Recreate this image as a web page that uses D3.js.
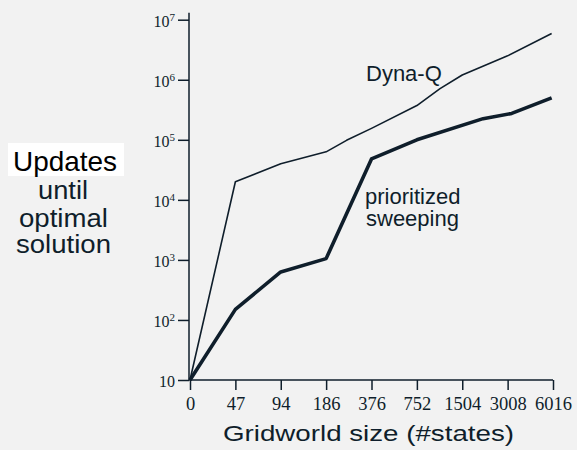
<!DOCTYPE html>
<html>
<head>
<meta charset="utf-8">
<script src="https://cdn.jsdelivr.net/npm/d3@7"></script>
<style>
  body { margin: 0; background: #f2f2f2; }
  svg { display: block; }
</style>
</head>
<body>
<div id="chart"></div>
<script>
// x categories (gridworld sizes) and their tick positions
var sizes = ["0", "47", "94", "186", "376", "752", "1504", "3008", "6016"];
var yTicks = [10, 1e2, 1e3, 1e4, 1e5, 1e6, 1e7];

// series: position along the size axis (category index) and updates needed
var dynaIdx = [0, 1, 2, 3, 3.45, 4, 5, 5.51, 6, 7, 7.97];
var dynaVal = [10, 20000, 40000, 63000, 98000, 155000, 372000, 710000, 1200000, 2500000, 5900000];
var psIdx = [0, 1, 2, 3, 4, 5, 6.46, 7.09, 7.97];
var psVal = [10, 150, 630, 1050, 48000, 100000, 225000, 275000, 500000];

var W = 577, H = 450;
var ink = "#0f1e2b";

var svg = d3.select("#chart").append("svg")
  .attr("width", W)
  .attr("height", H)
  .style("background", "#f2f2f2");

// scales
var x = d3.scaleLinear().domain([0, sizes.length - 1]).range([190, 553]);
var y = d3.scaleLog().domain([10, 1e7]).range([380, 19.7]);

// y axis
var yAxis = d3.axisLeft(y)
  .tickValues(yTicks)
  .tickSize(11)
  .tickSizeOuter(0)
  .tickPadding(3)
  .tickFormat(d => "");
var gy = svg.append("g")
  .attr("transform", "translate(189,0)")
  .call(yAxis);
gy.select(".domain").remove();
gy.append("line")
  .attr("x1", 0).attr("x2", 0)
  .attr("y1", y(10)).attr("y2", y(1.3e7))
  .attr("stroke", ink).attr("stroke-width", 1.5);
gy.selectAll(".tick line").attr("stroke", ink).attr("stroke-width", 1.5);
gy.selectAll(".tick text").each(function(d) {
  var t = d3.select(this)
    .attr("fill", ink)
    .style("font-family", "'Liberation Serif', 'Times New Roman', serif")
    .style("font-size", "16px")
    .attr("dy", "0.42em")
    .attr("x", -14);
  var p = Math.round(Math.log10(d));
  t.append("tspan").text("10");
  if (p > 1) {
    t.append("tspan")
      .attr("dy", -6)
      .style("font-size", "11px")
      .text(p);
  }
});

// x axis
var xAxis = d3.axisBottom(x)
  .tickValues(d3.range(sizes.length))
  .tickSize(10)
  .tickSizeOuter(0)
  .tickPadding(7)
  .tickFormat(i => sizes[i]);
var gx = svg.append("g")
  .attr("transform", "translate(0,380)")
  .call(xAxis);
gx.select(".domain")
  .attr("d", "M189,0H" + x(8))
  .attr("stroke", ink).attr("stroke-width", 1.5);
gx.selectAll(".tick line").attr("stroke", ink).attr("stroke-width", 1.5);
gx.selectAll(".tick text")
  .attr("fill", ink)
  .style("font-family", "'Liberation Serif', 'Times New Roman', serif")
  .style("font-size", "18.5px");

// lines
var line = d3.line()
  .x(d => x(d[0]))
  .y(d => y(d[1]));

svg.append("path")
  .datum(d3.zip(dynaIdx, dynaVal))
  .attr("fill", "none")
  .attr("stroke", ink)
  .attr("stroke-width", 1.6)
  .attr("stroke-linejoin", "round")
  .attr("d", line);

svg.append("path")
  .datum(d3.zip(psIdx, psVal))
  .attr("fill", "none")
  .attr("stroke", ink)
  .attr("stroke-width", 3.6)
  .attr("stroke-linejoin", "round")
  .attr("d", line);

// labels
var sans = "'Liberation Sans', Arial, Helvetica, sans-serif";

svg.append("text")
  .attr("x", 366).attr("y", 81)
  .attr("fill", ink)
  .style("font-family", sans).style("font-size", "22px")
  .text("Dyna-Q");

svg.append("text")
  .attr("x", 365).attr("y", 204)
  .attr("fill", ink)
  .style("font-family", sans).style("font-size", "22px")
  .text("prioritized");
svg.append("text")
  .attr("x", 366).attr("y", 225.5)
  .attr("fill", ink)
  .style("font-family", sans).style("font-size", "22px")
  .text("sweeping");

svg.append("text")
  .attr("x", 223).attr("y", 441)
  .attr("fill", ink)
  .attr("textLength", 291)
  .attr("lengthAdjust", "spacingAndGlyphs")
  .style("font-family", sans).style("font-size", "22px")
  .text("Gridworld size (#states)");

// y title
svg.append("rect")
  .attr("x", 8).attr("y", 143)
  .attr("width", 116).attr("height", 33)
  .attr("fill", "#ffffff");
svg.append("text")
  .attr("x", 13).attr("y", 171)
  .attr("fill", "#000")
  .attr("textLength", 104)
  .attr("lengthAdjust", "spacingAndGlyphs")
  .style("font-family", sans).style("font-size", "28px")
  .text("Updates");

var yTitle = [["until", 38, 199, 50], ["optimal", 19, 227, 89], ["solution", 16, 253, 95]];
yTitle.forEach(function(r) {
  svg.append("text")
    .attr("x", r[1]).attr("y", r[2])
    .attr("fill", ink)
    .attr("textLength", r[3])
    .attr("lengthAdjust", "spacingAndGlyphs")
    .style("font-family", sans).style("font-size", "26px")
    .text(r[0]);
});
</script>
</body>
</html>
